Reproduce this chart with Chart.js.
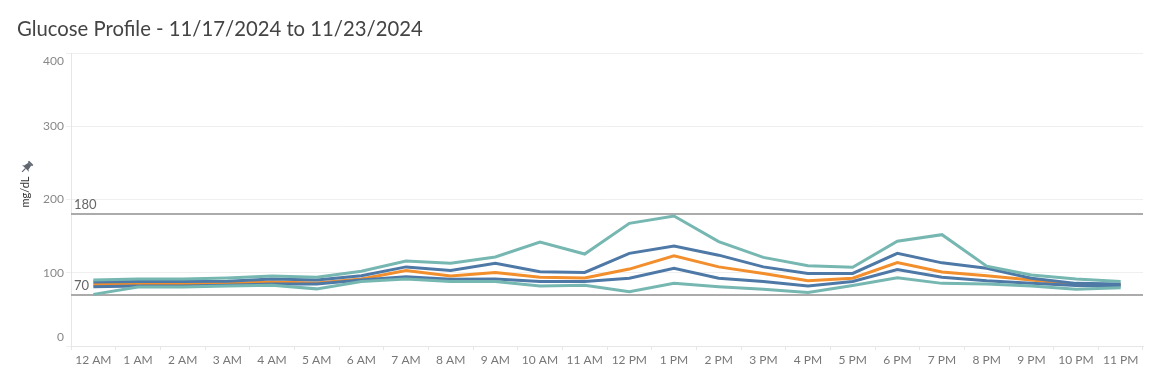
<!DOCTYPE html>
<html>
<head>
<meta charset="utf-8">
<script src="https://cdn.jsdelivr.net/npm/chart.js@4/dist/chart.umd.min.js"></script>
<style>
html,body{margin:0;padding:0;background:#fff;}
#wrap{width:1151px;height:382px;position:relative;}
</style>
</head>
<body>
<div id="wrap"><canvas id="c" width="1151" height="382"></canvas></div>
<script>
const titleText = 'Glucose Profile - 11/17/2024 to 11/23/2024';
const hours = ['12 AM','1 AM','2 AM','3 AM','4 AM','5 AM','6 AM','7 AM','8 AM','9 AM','10 AM','11 AM',
               '12 PM','1 PM','2 PM','3 PM','4 PM','5 PM','6 PM','7 PM','8 PM','9 PM','10 PM','11 PM'];
const p90 = [90,91.5,91.5,93,95.5,94,102,116,113,121.5,142,125.5,167.5,177.5,142.5,121,109.5,107.5,143,152,109,97,91.5,88];
const p75 = [87.5,88,88,88.5,91.5,90,96,108,103,113,101.5,100.5,126.5,136.5,124,108,99,99,126.5,113.5,106,92.5,85.5,84.5];
const p50 = [84,84.5,84.5,85.5,87.5,86,91.5,103,95.5,100.5,94,93,105,123,108,99,89,92.5,114,101,96,90,84,84];
const p25 = [81,82,82,83,84.5,84.5,90,94.5,91,91.5,88,88,92.5,106,92.5,88,82,88,104.5,94,89,85.5,82.5,82];
const p10 = [70.5,80.5,80.5,82,83,78,88,91.5,88,88,82,83,74,85.5,81,77.5,73,82.5,93,85.5,84.5,82,77.5,79.5];
const yTicks = [0,100,200,300,400];
const refLines = [180,70];
const yTitle = 'mg/dL';

const TEAL = '#76b7b2', BLUE = '#4e79a7', ORANGE = '#f28e2b';
const FONT = 'Lato, "Open Sans", sans-serif';

function ds(data, color){
  return {data, borderColor: color, backgroundColor: color, borderWidth: 3, pointRadius: 0, tension: 0, fill: false};
}

const overlay = {
  id: 'overlay',
  beforeDatasetsDraw(chart){
    const {ctx, chartArea, scales:{y}} = chart;
    ctx.save();
    ctx.strokeStyle = '#ababab';
    ctx.lineWidth = 2;
    ctx.fillStyle = '#666';
    ctx.font = '13px ' + FONT;
    ctx.textAlign = 'left';
    ctx.textBaseline = 'middle';
    refLines.forEach(v => {
      const py = Math.round(y.getPixelForValue(v));
      ctx.beginPath();
      ctx.moveTo(chartArea.left, py);
      ctx.lineTo(chartArea.right, py);
      ctx.stroke();
      ctx.fillText(String(v), chartArea.left + 3, py - 9);
    });
    ctx.restore();
  },
  afterDraw(chart){
    const {ctx, scales:{y}} = chart;
    ctx.save();
    // title
    ctx.fillStyle = '#444';
    ctx.font = '20.3px ' + FONT;
    ctx.textAlign = 'left';
    ctx.textBaseline = 'middle';
    ctx.fillText(titleText, 17, 29);
    // end tick labels nudged inside the axis like the original
    ctx.fillStyle = '#888';
    ctx.font = '12px ' + FONT;
    ctx.textAlign = 'right';
    const first = yTicks[0], last = yTicks[yTicks.length-1];
    ctx.fillText(String(last), y.right - 7, y.getPixelForValue(last) + 8);
    ctx.fillText(String(first), y.right - 7, y.getPixelForValue(first) - 9);
    // axis title, rotated
    ctx.save();
    ctx.translate(25, 192);
    ctx.rotate(-Math.PI / 2);
    ctx.fillStyle = '#333';
    ctx.font = '11px ' + FONT;
    ctx.textAlign = 'center';
    ctx.textBaseline = 'middle';
    ctx.fillText(yTitle, 0, 0);
    ctx.restore();
    // pin icon
    ctx.save();
    ctx.translate(27, 167);
    ctx.rotate(Math.PI / 4);
    ctx.fillStyle = '#5f6670';
    ctx.strokeStyle = '#5f6670';
    ctx.fillRect(-3, -6, 6, 2);
    ctx.beginPath();
    ctx.moveTo(-2, -4); ctx.lineTo(2, -4); ctx.lineTo(3, 1); ctx.lineTo(5, 2); ctx.lineTo(-5, 2); ctx.lineTo(-3, 1);
    ctx.closePath(); ctx.fill();
    ctx.lineWidth = 1.2;
    ctx.beginPath(); ctx.moveTo(0, 2); ctx.lineTo(0, 7); ctx.stroke();
    ctx.restore();
    ctx.restore();
  }
};

new Chart(document.getElementById('c'), {
  type: 'line',
  data: {
    labels: hours,
    datasets: [ds(p90, TEAL), ds(p10, TEAL), ds(p75, BLUE), ds(p25, BLUE), ds(p50, ORANGE)]
  },
  options: {
    responsive: false,
    animation: false,
    devicePixelRatio: 1,
    layout: {padding: {top: 53, right: 8, bottom: 0, left: 0}},
    plugins: {legend: {display: false}, title: {display: false}, tooltip: {enabled: false}},
    scales: {
      x: {
        type: 'category',
        offset: true,
        grid: {display: true, drawOnChartArea: false, drawTicks: true, tickLength: 4, color: '#e6e6e6', offset: true},
        border: {display: true, color: '#e6e6e6'},
        ticks: {color: '#777', font: {family: FONT, size: 12}, maxRotation: 0, autoSkip: false, padding: 3},
        afterFit(s){ s.height = 36; }
      },
      y: {
        min: 0, max: 400,
        afterBuildTicks(s){ s.ticks = yTicks.map(v => ({value: v})); },
        grid: {color: '#efefef', drawTicks: true, tickLength: 5, lineWidth: 1},
        border: {display: true, color: '#e6e6e6'},
        ticks: {
          color: c => (c.tick && (c.tick.value === yTicks[0] || c.tick.value === yTicks[yTicks.length-1])) ? 'rgba(0,0,0,0)' : '#888',
          font: {family: FONT, size: 12}, padding: 2
        },
        title: {display: false},
        afterFit(s){ s.width = 71; }
      }
    }
  },
  plugins: [overlay]
});
</script>
</body>
</html>
